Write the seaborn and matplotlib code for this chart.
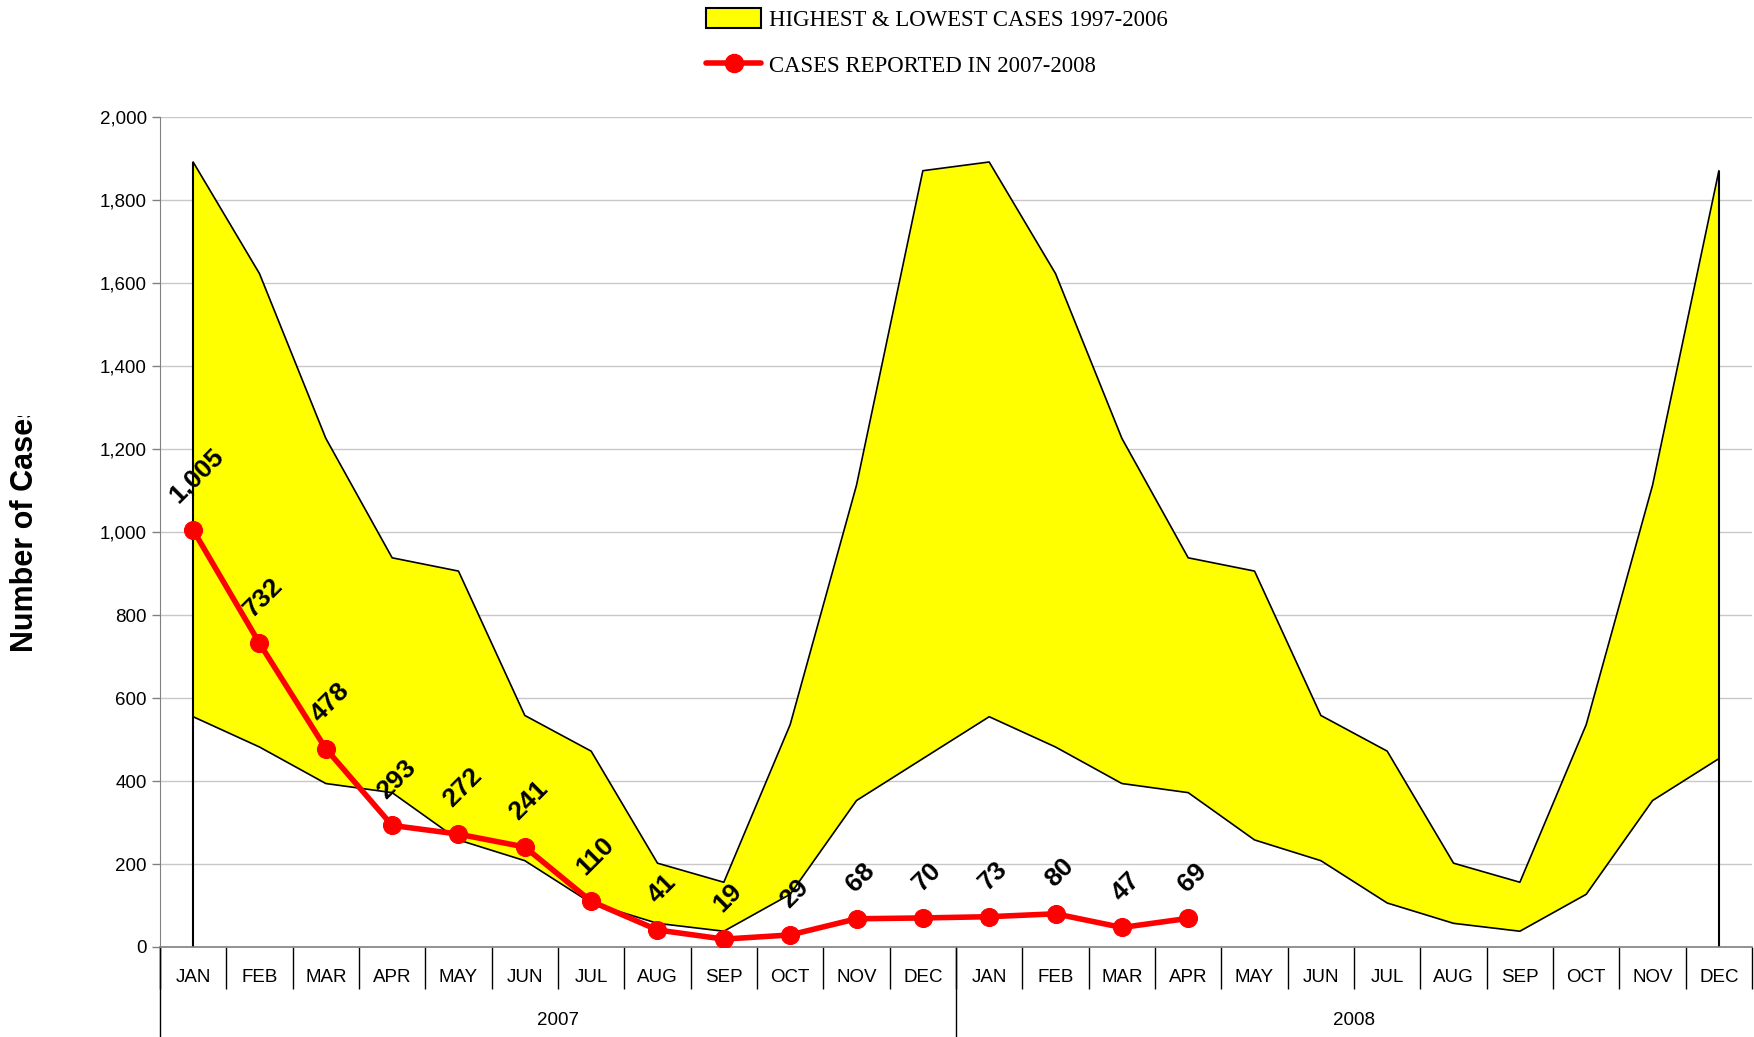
import numpy as np
import matplotlib
matplotlib.use("Agg")
import matplotlib.pyplot as plt
from matplotlib.patches import Patch
from matplotlib.lines import Line2D
from matplotlib.transforms import Bbox
import seaborn as sns
import pandas as pd

months = ["JAN", "FEB", "MAR", "APR", "MAY", "JUN", "JUL", "AUG", "SEP", "OCT", "NOV", "DEC"]
years = ["2007", "2008"]

# highest / lowest monthly cases 1997-2006 (same for both years)
high_cases = [1892, 1623, 1226, 938, 906, 558, 472, 202, 156, 536, 1113, 1871]
low_cases = [555, 482, 394, 372, 258, 208, 106, 57, 38, 127, 353, 454]

# cases reported Jan 2007 - Apr 2008
reported = [1005, 732, 478, 293, 272, 241, 110, 41, 19, 29, 68, 70, 73, 80, 47, 69]

sns.set_style("white")
plt.rcParams["font.family"] = ["Liberation Sans", "DejaVu Sans"]
plt.rcParams["text.color"] = "black"
plt.rcParams["xtick.color"] = "black"
plt.rcParams["ytick.color"] = "black"

n_cat = len(months) * len(years)
x = np.arange(n_cat)
high = np.array(high_cases * len(years))
low = np.array(low_cases * len(years))
df = pd.DataFrame({"x": x[:len(reported)], "cases": reported})

fig = plt.figure(figsize=(17.54, 10.37), dpi=100)
ax = fig.add_axes([0.0912, 0.0868, 0.9077, 0.8002])

# band between lowest and highest
ax.fill_between(x, low, high, color="#FFFF00", lw=0, zorder=1)
sns.lineplot(x=x, y=high, color="black", lw=1.2, ax=ax, zorder=2)
sns.lineplot(x=x, y=low, color="black", lw=1.2, ax=ax, zorder=2)
ax.vlines([x[0], x[-1]], 0, [high[0], high[-1]], color="black", lw=1.5, zorder=2)

# reported cases
sns.lineplot(data=df, x="x", y="cases", color="#FF0000", lw=4, marker="o",
             markersize=13, markeredgecolor="#FF0000", ax=ax, zorder=4)
for xi, v in zip(df["x"], df["cases"]):
    ax.annotate(f"{v:,}", (xi, v), xytext=(3, 16), textcoords="offset points",
                rotation=45, ha="center", va="bottom", fontsize=19,
                fontweight="bold", color="black", zorder=5)

ax.set_xlim(-0.5, n_cat - 0.5)
ax.set_ylim(0, 2000)
ax.set_yticks(np.arange(0, 2001, 200))
ax.set_yticklabels([f"{v:,}" for v in range(0, 2001, 200)], fontsize=13.5)
ax.yaxis.grid(True, color="#C8C8C8", lw=1)
ax.tick_params(axis="y", direction="out", length=6, width=1, color="#808080", left=True)

ax.set_xticks(x)
ax.set_xticklabels(months * len(years), fontsize=13.5)
ax.set_xticks(np.arange(-0.5, n_cat, 1), minor=True)
ax.tick_params(axis="x", which="major", length=0, pad=16)
ax.tick_params(axis="x", which="minor", length=30, width=1, color="black", bottom=True)

for s in ["top", "right"]:
    ax.spines[s].set_visible(False)
ax.spines["left"].set_color("#808080")
ax.spines["bottom"].set_color("#808080")
ax.spines["bottom"].set_linewidth(1.2)

# year labels and separators
for i, yr in enumerate(years):
    mid = i * len(months) + (len(months) - 1) / 2
    ax.text(mid, -0.088, yr, transform=ax.get_xaxis_transform(), ha="center",
            va="center", fontsize=13.5)
for xb in [-0.5, len(months) - 0.5]:
    ax.plot([xb, xb], [0, -0.12], transform=ax.get_xaxis_transform(),
            color="black", lw=1, clip_on=False)

ax.set_xlabel("")
ax.set_ylabel("")
ylab = fig.text(0.0143, 0.492, "Number of Cases", rotation=90, ha="center",
                va="center", fontsize=22, fontweight="bold")
# the label is cut off at the top, as in the original chart
ylab.set_clip_box(Bbox([[0, 0], [300, 621]]))
ylab.set_clip_on(True)

handles = [Patch(facecolor="#FFFF00", edgecolor="black", lw=1.5),
           Line2D([0], [0], color="#FF0000", lw=4, marker="o", markersize=13)]
labels = ["HIGHEST & LOWEST CASES 1997-2006", "CASES REPORTED IN 2007-2008"]
fig.legend(handles, labels, loc="upper left", bbox_to_anchor=(0.391, 1.012),
           frameon=False, prop={"family": "Liberation Serif", "size": 16.4},
           handlelength=2.4, handleheight=1.0, labelspacing=1.0, handletextpad=0.35)

fig.savefig("out.png", dpi=100)
